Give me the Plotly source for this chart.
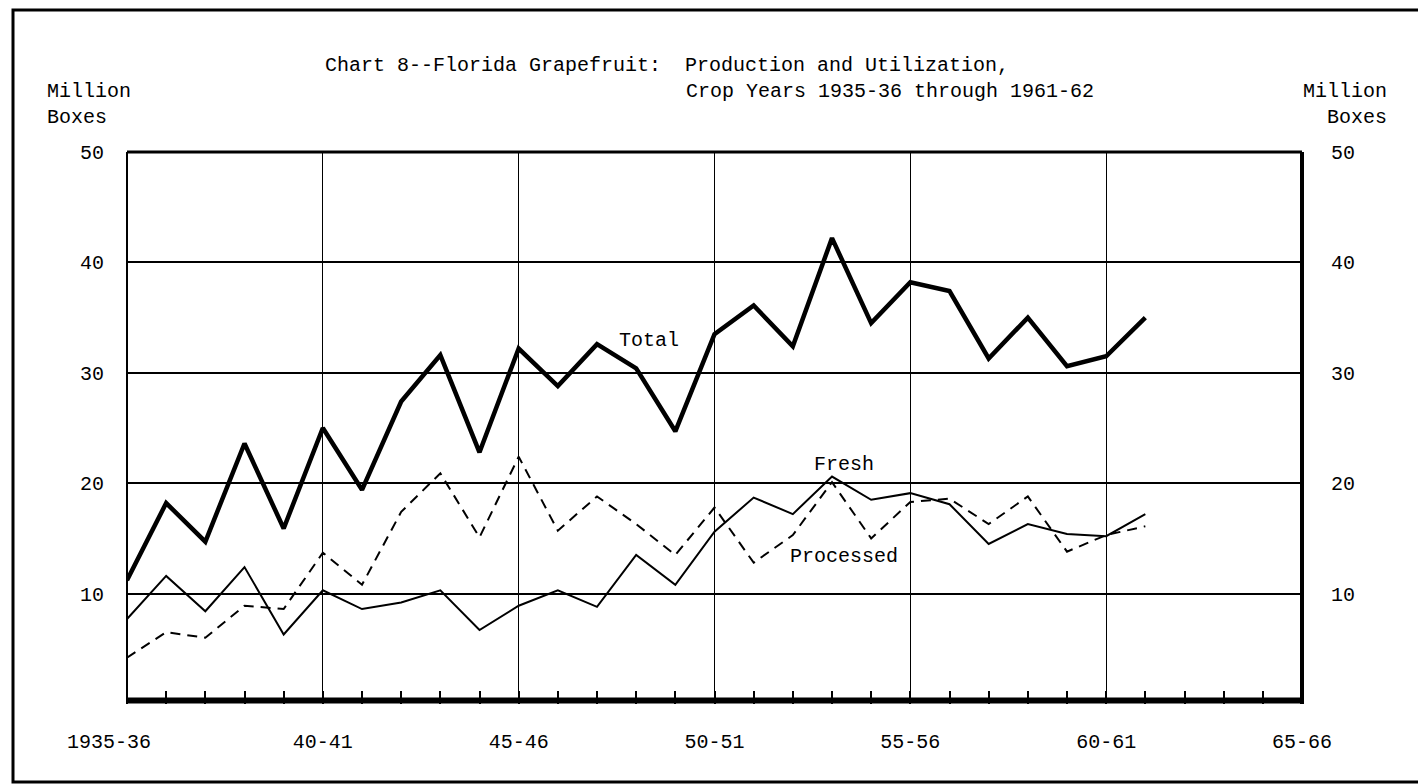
import plotly.graph_objects as go

# ---- data ----
years = list(range(1935, 1962))  # crop years 1935-36 ... 1961-62 (start year)
total = [11.2, 18.2, 14.7, 23.6, 15.9, 25.0, 19.4, 27.4, 31.6, 22.8, 32.2, 28.8, 32.6, 30.4,
         24.7, 33.5, 36.1, 32.4, 42.2, 34.5, 38.2, 37.4, 31.3, 35.0, 30.6, 31.5, 35.0]
fresh = [7.7, 11.6, 8.4, 12.4, 6.3, 10.3, 8.6, 9.2, 10.3, 6.7, 8.9, 10.3, 8.8, 13.5,
         10.8, 15.6, 18.7, 17.2, 20.6, 18.5, 19.1, 18.1, 14.5, 16.3, 15.4, 15.2, 17.2]
processed = [4.2, 6.5, 6.0, 8.9, 8.6, 13.7, 10.8, 17.4, 20.9, 15.1, 22.4, 15.7, 18.8, 16.3,
             13.5, 17.8, 12.8, 15.3, 20.1, 15.0, 18.3, 18.6, 16.3, 18.8, 13.8, 15.3, 16.1]

x_tick_vals = [1935, 1940, 1945, 1950, 1955, 1960, 1965]
x_tick_text = ["1935-36\u00a0\u00a0\u00a0", "40-41", "45-46", "50-51", "55-56", "60-61", "65-66"]
y_tick_vals = [10, 20, 30, 40, 50]

title_line1 = "Chart 8--Florida Grapefruit:\u00a0\u00a0Production and Utilization,"
title_line2 = "Crop Years 1935-36 through 1961-62"
axis_title = "Million<br>Boxes"

FONT = "Liberation Mono, Courier New, monospace"
FS = 20

# page body has an 8px default margin
PAGE = 8
PL, PR, PT, PB = 127, 1302, 152, 704        # plot area in page pixels
PW, PH = PR - PL, PB - PT


def px(xp):
    return (xp - PL) / PW


def py(yp):
    return (PB - yp) / PH


fig = go.Figure()
fig.add_trace(go.Scatter(x=years, y=total, mode="lines", name="Total",
                         line=dict(color="black", width=4.5)))
fig.add_trace(go.Scatter(x=years, y=fresh, mode="lines", name="Fresh",
                         line=dict(color="black", width=2)))
fig.add_trace(go.Scatter(x=years, y=processed, mode="lines", name="Processed",
                         line=dict(color="black", width=2, dash="10px,7px")))
# empty trace to carry the right-hand axis
fig.add_trace(go.Scatter(x=[None], y=[None], yaxis="y2", showlegend=False, hoverinfo="skip"))

fig.update_layout(
    width=1426, height=784,
    margin=dict(l=PL - PAGE, r=1426 - (PR - PAGE), t=PT - PAGE, b=784 - (PB - PAGE)),
    paper_bgcolor="white", plot_bgcolor="white",
    showlegend=False,
    font=dict(family=FONT, size=FS, color="black"),
    xaxis=dict(range=[1935, 1965], tickvals=x_tick_vals, ticktext=x_tick_text,
               ticks="inside", ticklen=13, tickwidth=2, tickcolor="black",
               showgrid=True, gridcolor="black", gridwidth=1.2,
               showline=False, zeroline=False, ticklabelstandoff=23,
               minor=dict(dtick=1, tick0=1935, ticks="inside", ticklen=13,
                          tickwidth=2, tickcolor="black", showgrid=False)),
    yaxis=dict(range=[0, 50], tickvals=y_tick_vals, showgrid=True, gridcolor="black",
               gridwidth=2, showline=False, zeroline=False, ticks="",
               ticklabelstandoff=22),
    yaxis2=dict(range=[0, 50], tickvals=y_tick_vals, overlaying="y", side="right",
                showgrid=False, showline=False, zeroline=False, ticks="",
                ticklabelstandoff=28),
)

fig.add_shape(type="line", xref="paper", yref="paper", x0=0, x1=0, y0=0, y1=1,
              line=dict(color="black", width=2))
fig.add_shape(type="line", xref="paper", yref="paper", x0=0, x1=1, y0=1, y1=1,
              line=dict(color="black", width=3))
fig.add_shape(type="line", xref="paper", yref="paper", x0=1, x1=1, y0=0, y1=1,
              line=dict(color="black", width=4))
fig.add_shape(type="line", xref="paper", yref="paper", x0=0, x1=1, y0=py(700.5), y1=py(700.5),
              line=dict(color="black", width=6))
# outer frame
fig.add_shape(type="rect", xref="paper", yref="paper",
              x0=px(13), x1=px(1421), y0=py(782), y1=py(10),
              line=dict(color="black", width=3))

ann = dict(showarrow=False, font=dict(family=FONT, size=FS, color="black"))
fig.add_annotation(text=title_line1, xref="paper", yref="paper",
                   x=px(323), y=py(65), xanchor="left", yanchor="middle", **ann)
fig.add_annotation(text=title_line2, xref="paper", yref="paper",
                   x=px(684), y=py(91), xanchor="left", yanchor="middle", **ann)
fig.add_annotation(text=axis_title, xref="paper", yref="paper", align="left",
                   x=px(45), y=py(104), xanchor="left", yanchor="middle", **ann)
fig.add_annotation(text=axis_title, xref="paper", yref="paper", align="right",
                   x=px(1389), y=py(104), xanchor="right", yanchor="middle", **ann)
fig.add_annotation(text="Total", x=1948.33, y=32.9, xanchor="center", yanchor="middle", **ann)
fig.add_annotation(text="Fresh", x=1953.3, y=21.7, xanchor="center", yanchor="middle", **ann)
fig.add_annotation(text="Processed", x=1953.3, y=13.4, xanchor="center", yanchor="middle", **ann)

fig.write_html("out.html")
